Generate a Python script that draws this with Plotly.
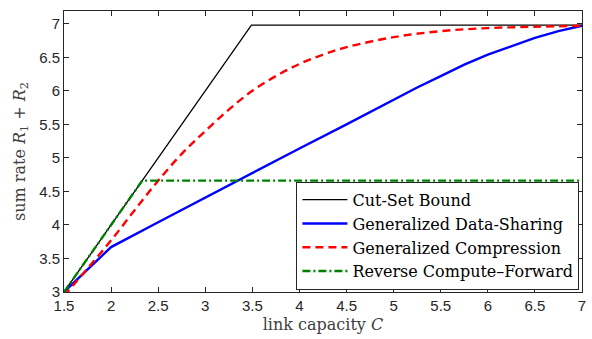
import plotly.graph_objects as go

# link capacity C and the sum rate of each scheme
cut_set_c = [1.5, 3.49, 7.0]
cut_set_rate = [3.0, 6.98, 6.98]

data_sharing_c = [1.5, 2.0, 2.5, 3.0, 3.5, 4.0, 4.5, 5.0, 5.25, 5.5, 5.75, 6.0, 6.25, 6.5, 6.75, 7.0]
data_sharing_rate = [3.0, 3.67, 4.04, 4.41, 4.78, 5.14, 5.50, 5.87, 6.05, 6.22, 6.39, 6.54, 6.67, 6.79, 6.89, 6.97]

compression_c = [1.5, 1.75, 2.0, 2.25, 2.5, 2.75, 3.0, 3.25, 3.5, 3.75, 4.0, 4.25, 4.5, 5.0, 5.5, 6.0, 6.5, 7.0]
compression_rate = [2.94, 3.35, 3.77, 4.22, 4.66, 5.06, 5.40, 5.72, 6.00, 6.22, 6.40, 6.54, 6.65, 6.80, 6.89, 6.935, 6.955, 6.97]

compute_forward_c = [1.5, 2.33, 7.0]
compute_forward_rate = [3.0, 4.66, 4.66]

x_ticks = [1.5, 2, 2.5, 3, 3.5, 4, 4.5, 5, 5.5, 6, 6.5, 7]
y_ticks = [3, 3.5, 4, 4.5, 5, 5.5, 6, 6.5, 7]

SERIF = "DejaVu Serif"
SANS = "Liberation Sans"
AXIS_COLOR = "#262626"

fig = go.Figure()
fig.add_trace(go.Scatter(x=cut_set_c, y=cut_set_rate, mode="lines",
                         name="Cut-Set Bound",
                         line=dict(color="black", width=1.3)))
fig.add_trace(go.Scatter(x=data_sharing_c, y=data_sharing_rate, mode="lines",
                         name="Generalized Data-Sharing",
                         line=dict(color="#0000ff", width=2.4)))
fig.add_trace(go.Scatter(x=compression_c, y=compression_rate, mode="lines",
                         name="Generalized Compression",
                         line=dict(color="#ff0000", width=2.4, dash="8px,5px", shape="spline")))
fig.add_trace(go.Scatter(x=compute_forward_c, y=compute_forward_rate, mode="lines",
                         name="Reverse Compute\u2013Forward",
                         line=dict(color="#008000", width=2.4, dash="8px,3px,2px,3px")))

axis_common = dict(
    showgrid=False, zeroline=False,
    showline=True, linecolor=AXIS_COLOR, linewidth=1, mirror="ticks",
    ticks="inside", ticklen=5, tickcolor=AXIS_COLOR, tickwidth=1,
    tickfont=dict(family=SANS, size=15, color=AXIS_COLOR),
)

fig.update_xaxes(range=[1.5, 7], tickvals=x_ticks,
                 ticktext=[f"{t:g}" for t in x_ticks],
                 title=dict(text="link capacity <i>C</i>",
                            font=dict(family=SERIF, size=16, color="#404040"),
                            standoff=5),
                 **axis_common)
fig.update_yaxes(range=[3, 7.19], tickvals=y_ticks,
                 ticktext=[f"{t:g}" for t in y_ticks],
                 title=dict(text="sum rate <i>R</i><sub>1</sub> + <i>R</i><sub>2</sub>",
                            font=dict(family=SERIF, size=16, color="#404040"),
                            standoff=9),
                 **axis_common)

fig.update_layout(
    width=592, height=339,
    margin=dict(l=64, r=6, t=11, b=47),
    paper_bgcolor="white", plot_bgcolor="white",
    showlegend=True,
    legend=dict(
        x=0.995, y=0.008, xanchor="right", yanchor="bottom",
        bgcolor="white", bordercolor=AXIS_COLOR, borderwidth=1,
        font=dict(family=SERIF, size=16, color="black"),
        tracegroupgap=0, itemwidth=45,
    ),
)

fig.write_html("out.html")
